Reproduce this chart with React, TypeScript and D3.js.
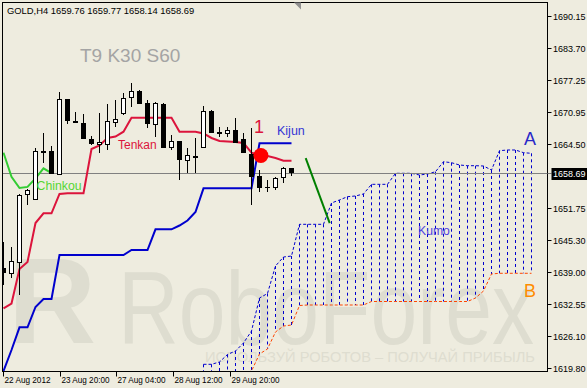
import React from "react";
import * as d3 from "d3";

// ---------- data ----------
const symbolHeader = "GOLD,H4  1659.76 1659.77 1658.14 1658.69";
const settingsLabel = "T9 K30 S60";
const lastClose = 1658.69;

const opens = [1639.73,1638.79,1640.99,1654.46,1653.46,1663.01,1663.11,1658.45,1673.44,1669.17,1668.77,1665.57,1664.45,1664.41,1668.91,1670.64,1673.90,1675.10,1672.64,1668.51,1672.50,1663.85,1665.11,1661.25,1662.05,1663.97,1671.16,1666.97,1666.65,1667.31,1665.51,1662.51,1658.11,1656.01,1655.97,1657.85,1659.76];
const highs = [1644.92,1643.98,1654.52,1655.51,1663.71,1666.77,1664.17,1674.84,1673.60,1670.96,1670.44,1666.11,1670.64,1672.60,1673.30,1674.64,1676.64,1675.30,1673.30,1672.96,1672.76,1666.21,1665.11,1663.77,1665.65,1672.10,1671.30,1667.97,1667.97,1669.65,1666.65,1667.65,1659.31,1657.31,1657.97,1659.97,1659.77];
const lows = [1636.33,1637.67,1634.33,1652.32,1653.32,1660.65,1658.45,1658.31,1668.45,1668.65,1665.41,1664.31,1662.65,1663.31,1667.97,1670.30,1671.96,1672.44,1667.71,1665.97,1663.61,1663.21,1657.31,1658.65,1658.65,1663.91,1666.61,1665.97,1665.97,1664.61,1662.71,1652.32,1654.98,1654.98,1655.31,1656.71,1658.14];
const closes = [1638.73,1641.13,1654.32,1655.31,1663.17,1663.17,1658.45,1673.44,1669.17,1668.65,1665.57,1664.45,1664.97,1669.11,1669.57,1673.64,1675.10,1672.44,1668.51,1672.64,1663.65,1665.11,1661.25,1662.25,1662.17,1671.16,1666.77,1666.45,1667.31,1664.65,1662.77,1657.97,1655.71,1655.93,1657.65,1659.65,1658.69];

const tenkan = [1631.67,1632.63,1639.53,1640.93,1648.72,1650.66,1650.66,1654.52,1654.66,1654.66,1654.66,1663.51,1664.21,1665.71,1666.01,1666.97,1669.77,1669.77,1669.77,1669.77,1669.77,1669.77,1666.97,1666.97,1666.97,1666.61,1665.71,1665.11,1665.01,1664.91,1664.71,1662.77,1662.31,1662.11,1661.71,1661.17,1661.17];
const kijun = [1619.14,1623.34,1627.87,1627.87,1631.93,1633.53,1633.53,1642.32,1642.32,1642.32,1642.32,1642.32,1642.32,1642.32,1642.32,1642.32,1643.32,1643.32,1643.32,1647.46,1647.46,1647.46,1648.22,1649.22,1650.92,1655.65,1655.65,1655.65,1655.65,1655.65,1655.65,1655.65,1664.65,1664.65,1664.65,1664.65,1664.65];

const cloudStart = 25;
const spanA = [1620.48,1620.48,1620.94,1622.44,1623.14,1624.74,1627.13,1633.73,1634.63,1640.13,1641.92,1642.12,1648.46,1648.46,1648.46,1648.46,1652.72,1653.32,1653.98,1654.12,1654.52,1656.45,1656.45,1656.45,1658.65,1658.65,1658.65,1658.31,1658.51,1658.97,1660.97,1660.77,1660.31,1660.17,1660.17,1660.11,1659.31,1663.17,1663.31,1663.31,1662.77,1662.65];
const spanB = [1618.5,1618.5,1618.5,1618.5,1618.5,1618.5,1619.14,1622.54,1623.54,1626.94,1628.13,1628.33,1632.23,1632.33,1632.33,1632.33,1632.33,1632.33,1632.33,1632.33,1632.33,1633.03,1633.03,1633.03,1633.03,1633.03,1633.03,1633.03,1633.03,1633.03,1633.03,1633.03,1633.03,1633.03,1633.73,1635.13,1638.53,1638.67,1638.67,1638.67,1638.67,1638.67];

const chinkouShift = 30;

const priceTicks = [1690.15,1683.70,1677.25,1670.95,1664.50,1651.75,1645.30,1639.00,1632.55,1626.10,1619.80];
const timeTickLabels = ["22 Aug 2012","23 Aug 20:00","27 Aug 04:00","28 Aug 12:00","29 Aug 20:00"];
const timeTickIndex = [0, 7.09, 14.17, 21.3, 28.4];

// annotation anchors (bar index / price)
const trendLine = [[37.8, 1661.7], [40.8, 1648.7]];
const signalDot = [32.2, 1662.2];

// ---------- layout ----------
const W = 587, H = 388;
const plot = { left: 2.5, right: 547.5, top: 2.5, bottom: 371.5 };
const BG = "#EEECDF";
const WM = "#DEDDD0";

export default function App() {
  const x = d3.scaleLinear().domain([0, 66]).range([3.3, 531.3]);
  const y = d3.scaleLinear().domain([1619.8, 1690.15]).range([367.7, 15.7]);
  const px = (i: number) => Math.floor(x(i)) + 0.5;

  const lineIdx = d3.line<number>().x((_, i) => px(i)).y((d) => y(d));
  const cloudLine = d3.line<number>().x((_, i) => px(i + cloudStart)).y((d) => y(d));
  const chinkou = closes.slice(chinkouShift);
  const chinkouLine = d3.line<number>().x((_, i) => px(i)).y((d) => y(d));

  const font = "'Liberation Sans', Arial, sans-serif";

  return (
    <svg width={W} height={H} style={{ position: "absolute", left: 0, top: 0, display: "block", background: BG }}>
      <defs>
        <clipPath id="plotClip">
          <rect x={plot.left + 0.5} y={plot.top + 0.5} width={plot.right - plot.left - 1} height={plot.bottom - plot.top - 1} />
        </clipPath>
      </defs>
      <rect x={0} y={0} width={W} height={H} fill={BG} />

      <g clipPath="url(#plotClip)">
        {/* watermark */}
        <text x={8} y={343} fontFamily={font} fontWeight="bold" fontSize={122} fill={WM}>R</text>
        <text x={118} y={344} fontFamily={font} fontSize={104} fill={WM} textLength={416} lengthAdjust="spacingAndGlyphs">RoboForex</text>
        <text x={205} y={362} fontFamily={font} fontSize={14} fill={WM} textLength={330} lengthAdjust="spacingAndGlyphs">ИСПОЛЬЗУЙ РОБОТОВ – ПОЛУЧАЙ ПРИБЫЛЬ</text>

        {/* cloud hatching */}
        {spanA.map((a, i) => (
          <line key={"h" + i} x1={px(i + cloudStart)} x2={px(i + cloudStart)} y1={y(a)} y2={y(spanB[i])}
            stroke="#0000CD" strokeWidth={1} strokeDasharray="3,3" />
        ))}
        <path d={cloudLine(spanA) || ""} fill="none" stroke="#0000CD" strokeWidth={1} strokeDasharray="3,2" />
        <path d={cloudLine(spanB) || ""} fill="none" stroke="#FF4500" strokeWidth={1} strokeDasharray="3,2" />

        {/* current price line */}
        <line x1={plot.left} x2={plot.right} y1={Math.round(y(lastClose)) + 0.5} y2={Math.round(y(lastClose)) + 0.5} stroke="#808080" strokeWidth={1} />

        {/* kijun, tenkan, chinkou */}
        <path d={lineIdx(kijun) || ""} fill="none" stroke="#0000CD" strokeWidth={2} />
        <path d={lineIdx(tenkan) || ""} fill="none" stroke="#DC143C" strokeWidth={2} />
        <path d={chinkouLine(chinkou) || ""} fill="none" stroke="#33CC33" strokeWidth={2} />

        {/* candles */}
        {opens.map((o, i) => {
          const c = closes[i];
          const cx = px(i);
          const top = Math.round(y(Math.max(o, c)));
          const bot = Math.round(y(Math.min(o, c)));
          const bull = c > o;
          return (
            <g key={"c" + i}>
              <line x1={cx} x2={cx} y1={Math.round(y(highs[i]))} y2={Math.round(y(lows[i]))} stroke="#000" strokeWidth={1} />
              {bull ? (
                <rect x={cx - 2} y={top + 0.5} width={4} height={Math.max(bot - top, 1)} fill="#fff" stroke="#000" strokeWidth={1} />
              ) : (
                <rect x={cx - 2.5} y={top} width={5} height={Math.max(bot - top, 1)} fill="#000" />
              )}
            </g>
          );
        })}

        {/* signal dot and trend line */}
        <circle cx={x(signalDot[0])} cy={y(signalDot[1])} r={7.5} fill="#FF0000" />
        <line x1={x(trendLine[0][0])} y1={y(trendLine[0][1])} x2={x(trendLine[1][0])} y2={y(trendLine[1][1])} stroke="#008000" strokeWidth={2} />

        {/* labels */}
        <text x={80} y={62} fontFamily={font} fontSize={19} fill="#A4A4A4">{settingsLabel}</text>
        <text x={118} y={149} fontFamily={font} fontSize={12} fill="#DC143C">Tenkan</text>
        <text x={277} y={135} fontFamily={font} fontSize={12.5} fill="#3535D5">Kijun</text>
        <text x={36.5} y={189.5} fontFamily={font} fontSize={12.3} fill="#55D633">Chinkou</text>
        <text x={254} y={133} fontFamily={font} fontSize={18} fill="#DC143C">1</text>
        <text x={418} y={234.5} fontFamily={font} fontSize={12.2} fill="#5040E0">Kumo</text>
        <text x={524} y={145} fontFamily={font} fontSize={18} fill="#2828C8">A</text>
        <text x={524} y={297} fontFamily={font} fontSize={18} fill="#FF8C00">B</text>
      </g>

      {/* frame */}
      <rect x={plot.left} y={plot.top} width={plot.right - plot.left} height={plot.bottom - plot.top} fill="none" stroke="#000" strokeWidth={1} />
      <path d="M294,2.5 L301,2.5 L301,9.5 Z" fill="#909090" />

      {/* header */}
      <text x={7} y={14} fontFamily={font} fontSize={9.4} fill="#000">{symbolHeader}</text>

      {/* right axis */}
      {priceTicks.map((t, i) => {
        const yy = Math.round(y(t)) + 0.5;
        return (
          <g key={"p" + i}>
            <line x1={plot.right} x2={plot.right + 4} y1={yy} y2={yy} stroke="#000" />
            <text x={553} y={yy + 3.5} fontFamily={font} fontSize={9} fill="#000">{t.toFixed(2)}</text>
          </g>
        );
      })}
      {/* current price tag */}
      <line x1={plot.right} x2={plot.right + 4} y1={Math.round(y(lastClose)) + 0.5} y2={Math.round(y(lastClose)) + 0.5} stroke="#808080" />
      <rect x={551.5} y={Math.round(y(lastClose)) - 5} width={35.5} height={12} fill="#000" />
      <text x={553} y={Math.round(y(lastClose)) + 4} fontFamily={font} fontSize={9} fill="#fff">{lastClose.toFixed(2)}</text>

      {/* bottom axis */}
      {timeTickIndex.map((ti, i) => {
        const xx = Math.floor(x(ti)) + 0.5;
        return (
          <g key={"t" + i}>
            <line x1={xx} x2={xx} y1={plot.bottom} y2={plot.bottom + 5} stroke="#000" />
            <text x={xx + 1} y={382.5} fontFamily={font} fontSize={9.5} fill="#000" textLength={i === 0 ? 46 : 48} lengthAdjust="spacingAndGlyphs">{timeTickLabels[i]}</text>
          </g>
        );
      })}
    </svg>
  );
}
